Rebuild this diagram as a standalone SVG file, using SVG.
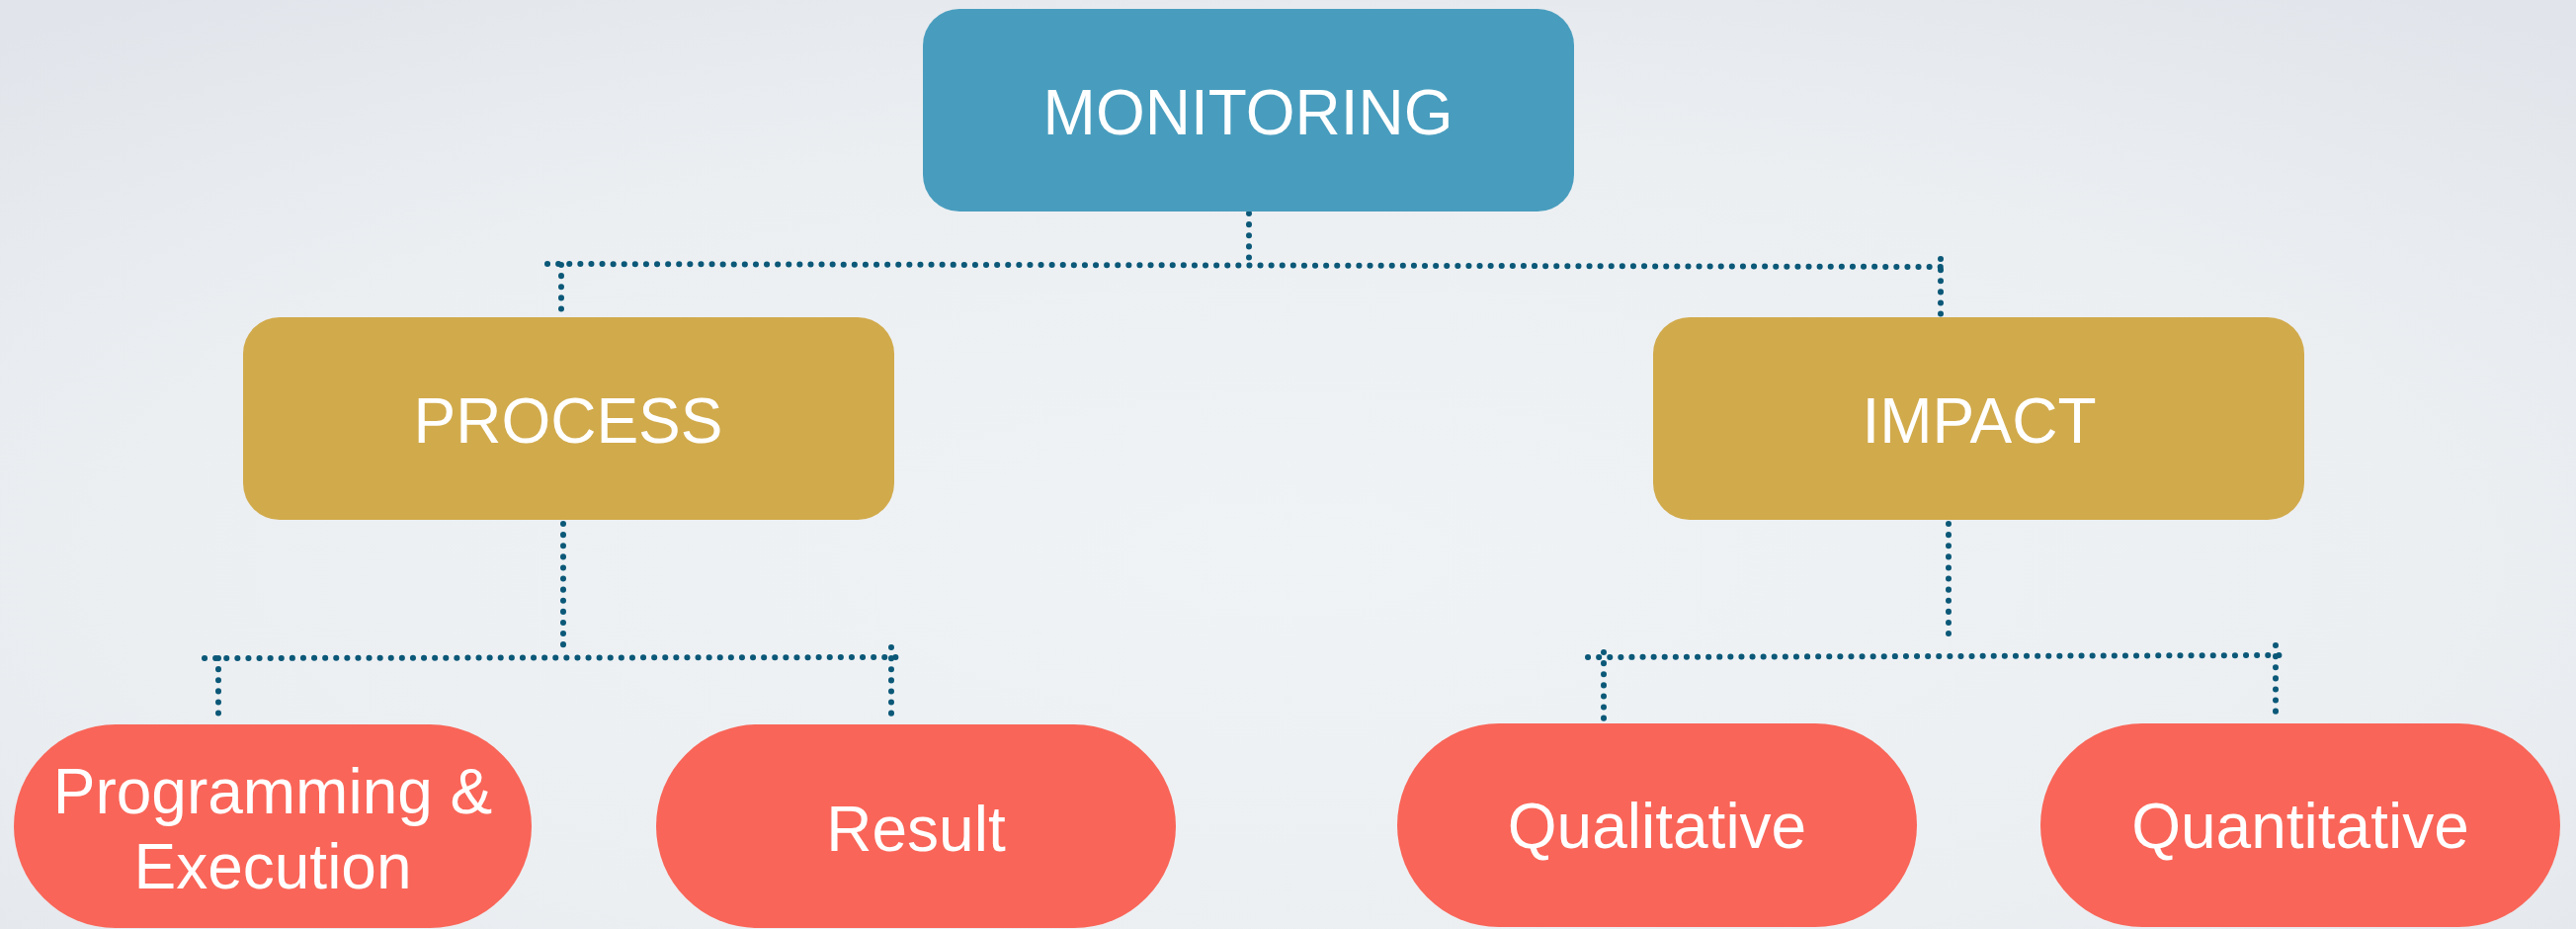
<svg xmlns="http://www.w3.org/2000/svg" width="2607" height="940" viewBox="0 0 2607 940">
<defs>
<radialGradient id="bg" cx="50%" cy="60%" r="75%">
<stop offset="0" stop-color="#F0F3F6"/>
<stop offset="0.6" stop-color="#ECEFF2"/>
<stop offset="1" stop-color="#E1E4EA"/>
</radialGradient>
<style>
.lbl{font-family:"Liberation Sans",Arial,sans-serif;font-size:64px;fill:#FFFFFF;text-anchor:middle}
.dot{fill:none;stroke:#0B5878;stroke-width:6;stroke-linecap:round;stroke-dasharray:0.1 11}
.top{fill:#489DBE}
.mid{fill:#D1AA4B}
.leaf{fill:#F96558}
</style>
</defs>
<rect width="2607" height="940" fill="url(#bg)"/>
<g id="connectors">
<path class="dot" d="M1264 216 V268"/>
<path class="dot" d="M554 267 L1966 270"/>
<path class="dot" d="M568 268 V320"/>
<path class="dot" d="M1964 262 V320"/>
<path class="dot" d="M570 530 V653"/>
<path class="dot" d="M207 666 L909 665"/>
<path class="dot" d="M221 666 V730"/>
<path class="dot" d="M902 655 V725"/>
<path class="dot" d="M1972 530 V652"/>
<path class="dot" d="M1607 665 L2311 663"/>
<path class="dot" d="M1623 660 V727"/>
<path class="dot" d="M2303 653 V722"/>
</g>
<g id="monitoring">
<rect class="top" x="934" y="9" width="659" height="205" rx="37"/>
<text class="lbl" x="1263" y="136">MONITORING</text>
</g>
<g id="process">
<rect class="mid" x="246" y="321" width="659" height="205" rx="37"/>
<text class="lbl" x="575" y="448">PROCESS</text>
</g>
<g id="impact">
<rect class="mid" x="1673" y="321" width="659" height="205" rx="37"/>
<text class="lbl" x="2003" y="448">IMPACT</text>
</g>
<g id="programming">
<rect class="leaf" x="14" y="733" width="524" height="206" rx="103"/>
<text class="lbl" x="276" y="823">Programming &amp;</text>
<text class="lbl" x="276" y="899">Execution</text>
</g>
<g id="result">
<rect class="leaf" x="664" y="733" width="526" height="206" rx="103"/>
<text class="lbl" x="927" y="861">Result</text>
</g>
<g id="qualitative">
<rect class="leaf" x="1414" y="732" width="526" height="206" rx="103"/>
<text class="lbl" x="1677" y="858">Qualitative</text>
</g>
<g id="quantitative">
<rect class="leaf" x="2065" y="732" width="526" height="206" rx="103"/>
<text class="lbl" x="2328" y="858">Quantitative</text>
</g>
</svg>
